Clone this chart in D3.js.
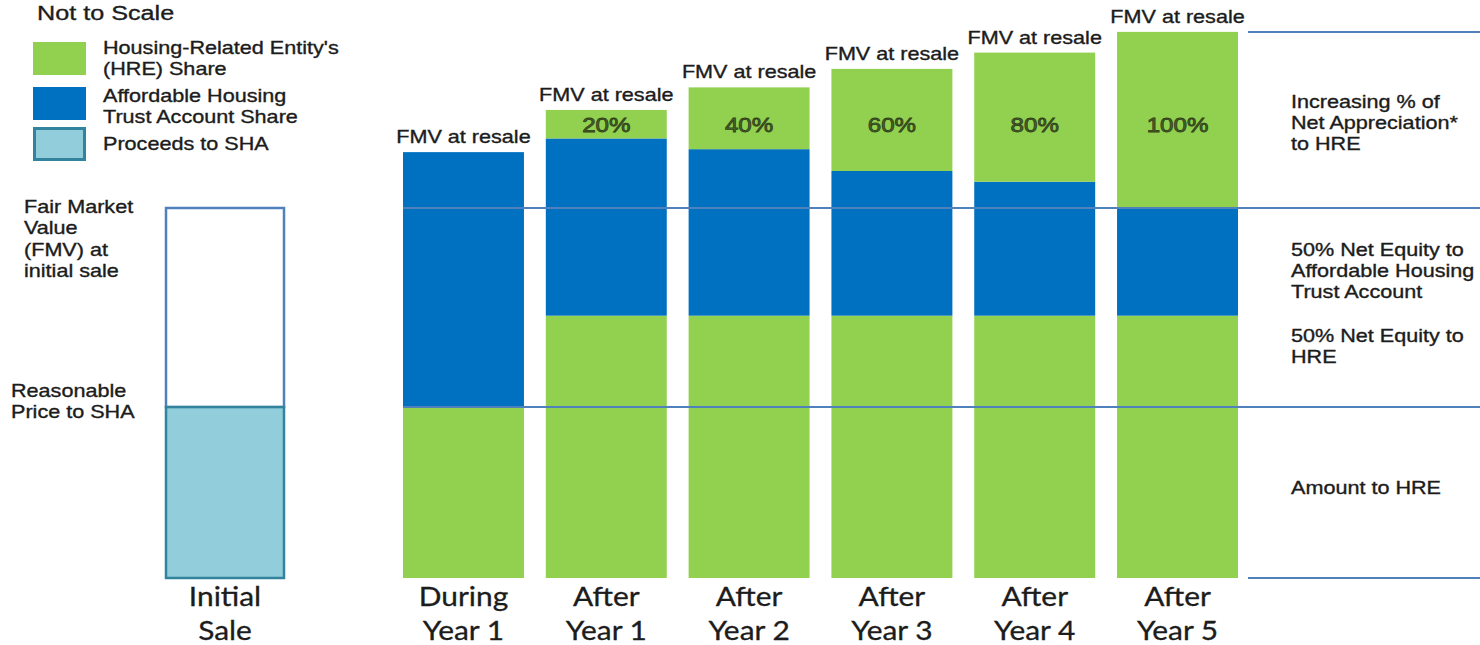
<!DOCTYPE html>
<html>
<head>
<meta charset="utf-8">
<script src="https://cdn.jsdelivr.net/npm/d3@7"></script>
<style>
  body { margin: 0; background: #fff; }
  svg { display: block; }
</style>
</head>
<body>
<svg id="chart" width="1480" height="645"></svg>
<script>
// ---- data (units: FMV at initial sale = 100) ----
const categories = ["During Year 1", "After Year 1", "After Year 2", "After Year 3", "After Year 4", "After Year 5"];
const categoryLines = [["During", "Year 1"], ["After", "Year 1"], ["After", "Year 2"], ["After", "Year 3"], ["After", "Year 4"], ["After", "Year 5"]];
const hreBase = [46.2, 70.9, 70.9, 70.9, 70.9, 70.9];
const trustShare = [68.9, 47.9, 45.0, 39.1, 36.2, 29.1];
const hreAppreciation = [0, 7.7, 16.7, 27.6, 34.9, 47.6];
const appreciationLabels = ["", "20%", "40%", "60%", "80%", "100%"];
const initialCategory = ["Initial Sale"];
const initialFMV = 100;
const reasonablePrice = 46.2;
const legendItems = [
  { key: "hre", lines: ["Housing-Related Entity's", "(HRE) Share"] },
  { key: "trust", lines: ["Affordable Housing", "Trust Account Share"] },
  { key: "sha", lines: ["Proceeds to SHA"] }
];
const rightNotes = [
  ["Increasing % of", "Net Appreciation*", "to HRE"],
  ["50% Net Equity to", "Affordable Housing", "Trust Account"],
  ["50% Net Equity to", "HRE"],
  ["Amount to HRE"]
];

// ---- styling ----
const colors = { hre: "#92d050", trust: "#0070c0", sha: "#92cddc", shaEdge: "#31849b", edge: "#4f81bd", text: "#1c1c1c" };
const SX = 1.2; // text is drawn slightly widened
const sans = "'Liberation Sans', Arial, sans-serif";

const svg = d3.select("#chart");

const y = d3.scaleLinear().domain([0, 100]).range([578, 208]);
const x = d3.scaleBand().domain(categories).range([403, 1238]).paddingInner(0.153).paddingOuter(0);
const xInit = d3.scaleBand().domain(initialCategory).range([165, 285]);

function addText(g, px, py, lines, o = {}) {
  const fill = o.fill || colors.text;
  const t = g.append("text")
    .attr("transform", `translate(${px},${py}) scale(${o.sx || SX},1)`)
    .attr("text-anchor", o.anchor || "start")
    .attr("font-family", o.family || sans)
    .attr("font-size", o.size || 18)
    .attr("fill", fill)
    .attr("stroke", o.stroke || fill)
    .attr("stroke-width", o.strokeWidth != null ? o.strokeWidth : 0.35);
  lines.forEach((s, i) => t.append("tspan").attr("x", 0).attr("y", i * (o.lh || 21)).text(s));
  return t;
}

// ---- stacked bars ----
const rows = categories.map((c, i) => ({ cat: c, base: hreBase[i], trust: trustShare[i], gain: hreAppreciation[i] }));
const keys = ["base", "trust", "gain"];
const keyColor = { base: colors.hre, trust: colors.trust, gain: colors.hre };
const series = d3.stack().keys(keys)(rows);

const barG = svg.append("g");
barG.selectAll("g").data(series).join("g")
  .attr("fill", d => keyColor[d.key])
  .selectAll("rect").data(d => d).join("rect")
  .attr("x", d => x(d.data.cat))
  .attr("width", x.bandwidth())
  .attr("y", d => y(d[1]))
  .attr("height", d => Math.max(0, y(d[0]) - y(d[1])));

// ---- initial sale bar ----
const initG = svg.append("g");
initG.append("rect")
  .attr("x", xInit(initialCategory[0]) + 1)
  .attr("width", xInit.bandwidth() - 2)
  .attr("y", y(initialFMV))
  .attr("height", y(reasonablePrice) - y(initialFMV))
  .attr("fill", "#fff").attr("stroke", colors.edge).attr("stroke-width", 2.5);
initG.append("rect")
  .attr("x", xInit(initialCategory[0]) + 1)
  .attr("width", xInit.bandwidth() - 2)
  .attr("y", y(reasonablePrice))
  .attr("height", y(0) - y(reasonablePrice))
  .attr("fill", colors.sha).attr("stroke", colors.shaEdge).attr("stroke-width", 2.5);

// ---- reference lines ----
const topValue = d3.max(series[2], d => d[1]);
const lineG = svg.append("g").attr("stroke", colors.edge).attr("stroke-width", 2);
[initialFMV, reasonablePrice].forEach(v =>
  lineG.append("line").attr("x1", x(categories[0])).attr("x2", 1480).attr("y1", y(v)).attr("y2", y(v)));
[topValue, 0].forEach(v =>
  lineG.append("line").attr("x1", 1248).attr("x2", 1480).attr("y1", y(v)).attr("y2", y(v)));

// ---- bar labels ----
const labG = svg.append("g");
series[2].forEach((d, i) => {
  const cx = x(d.data.cat) + x.bandwidth() / 2;
  addText(labG, cx, y(d[1]) - 9, ["FMV at resale"], { anchor: "middle" });
  if (appreciationLabels[i]) {
    addText(labG, cx, y(122.5) + 7.5, [appreciationLabels[i]],
      { anchor: "middle", size: 21, fill: "#4a6629", stroke: "#2f4019", strokeWidth: 0.8, sx: 1.15 });
  }
});

// ---- category labels ----
const catG = svg.append("g");
const catFont = "Lato, 'Open Sans', sans-serif";
const catOpts = { anchor: "middle", family: catFont, size: 26, lh: 34, sx: 1.15, strokeWidth: 0.3 };
categories.forEach((c, i) => {
  addText(catG, x(c) + x.bandwidth() / 2, 606, categoryLines[i], catOpts);
});
addText(catG, xInit(initialCategory[0]) + xInit.bandwidth() / 2, 606, ["Initial", "Sale"], catOpts);

// ---- left annotations ----
const leftG = svg.append("g");
addText(leftG, 37, 20, ["Not to Scale"], { size: 21 });
addText(leftG, 24, 213, ["Fair Market", "Value", "(FMV) at", "initial sale"], { size: 18, lh: 21.5 });
addText(leftG, 11, 397, ["Reasonable", "Price to SHA"], { size: 18, lh: 21 });

// ---- legend ----
const legG = svg.append("g");
const swatchY = [42, 87, 127];
const textY = [54, 102, 150];
legendItems.forEach((it, i) => {
  const r = legG.append("rect").attr("x", 33).attr("y", swatchY[i]).attr("width", 53).attr("height", 33)
    .attr("fill", colors[it.key]);
  if (it.key === "sha") r.attr("x", 34.5).attr("y", swatchY[i] + 1.5).attr("width", 50).attr("height", 31)
    .attr("stroke", colors.shaEdge).attr("stroke-width", 3);
  addText(legG, 103, textY[i], it.lines, { size: 18, lh: 21 });
});

// ---- right annotations ----
const rightG = svg.append("g");
const noteY = [108, 256, 342, 494];
rightNotes.forEach((lines, i) => addText(rightG, 1291, noteY[i], lines, { size: 18, lh: 21 }));
</script>
</body>
</html>
